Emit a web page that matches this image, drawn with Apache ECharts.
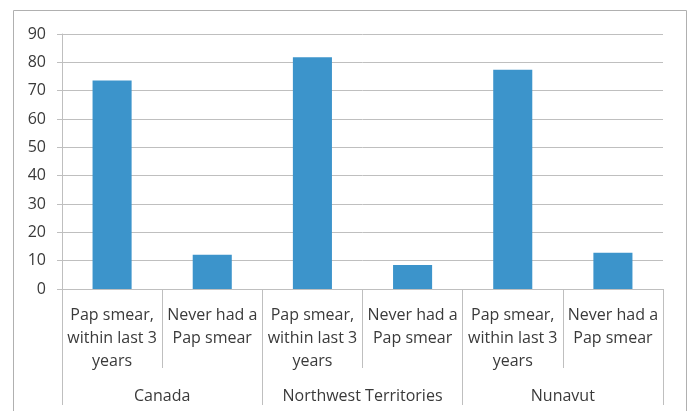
<!DOCTYPE html>
<html><head><meta charset="utf-8">
<script src="https://cdn.jsdelivr.net/npm/echarts@6/dist/echarts.min.js"></script>
<style>html,body{margin:0;padding:0;background:#fff}#c{width:689px;height:411px}</style>
</head><body><div id="c"></div>
<script>
const categories = ['Pap smear,\nwithin last 3\nyears', 'Never had a\nPap smear', 'Pap smear,\nwithin last 3\nyears', 'Never had a\nPap smear', 'Pap smear,\nwithin last 3\nyears', 'Never had a\nPap smear'];
const groups = ['Canada', 'Northwest Territories', 'Nunavut'];
const values = [73.6, 12.1, 81.8, 8.5, 77.4, 12.8];
const yTicks = { min: 0, max: 90, interval: 10 };

const chart = echarts.init(document.getElementById('c'));
const txt = '#3a3a3a', line = '#bfbfbf', font = 'Open Sans';
chart.setOption({
  animation: false,
  grid: { left: 62, right: 26, top: 34, bottom: 122, containLabel: false },
  graphic: [{ type: 'rect', shape: { x: 13.5, y: 10.5, width: 673, height: 420 }, style: { fill: 'none', stroke: '#b0b0b0', lineWidth: 1 }, silent: true }],
  xAxis: [
    { type: 'category', data: categories, position: 'bottom',
      axisLine: { show: true, lineStyle: { color: line } },
      axisTick: { show: true, interval: 0, length: 79, lineStyle: { color: line } },
      axisLabel: { interval: 0, color: txt, fontFamily: font, fontSize: 16, lineHeight: 23, margin: 15 } },
    { type: 'category', data: groups, position: 'bottom',
      axisLine: { show: false },
      axisTick: { show: true, interval: 0, length: 116, lineStyle: { color: line } },
      axisLabel: { interval: 0, color: txt, fontFamily: font, fontSize: 16, margin: 99 } }
  ],
  yAxis: { type: 'value', min: yTicks.min, max: yTicks.max, interval: yTicks.interval,
    axisLine: { show: true, lineStyle: { color: line } },
    axisTick: { show: true, length: 5, lineStyle: { color: line } },
    splitLine: { show: true, lineStyle: { color: line } },
    axisLabel: { color: txt, fontFamily: font, fontSize: 16, margin: 16 } },
  series: [{ type: 'bar', data: values, xAxisIndex: 0, barWidth: '39%', itemStyle: { color: '#3c94cb' } }]
});
</script></body></html>
